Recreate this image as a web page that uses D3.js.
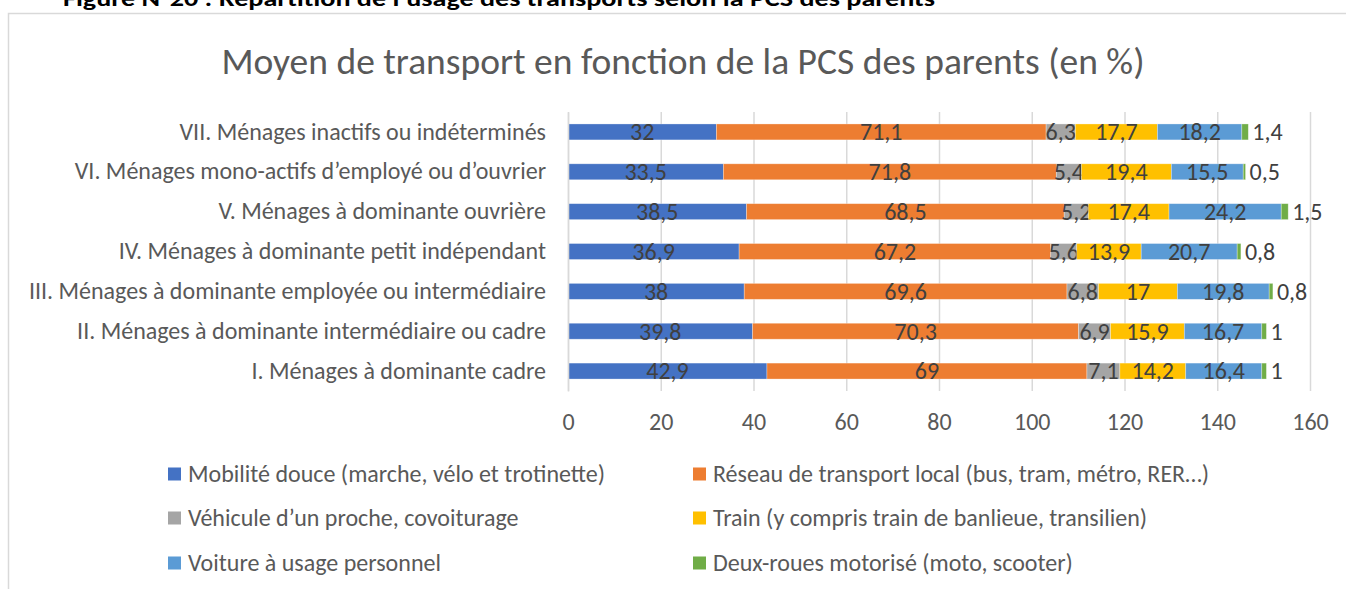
<!DOCTYPE html>
<html>
<head>
<meta charset="utf-8">
<script src="https://cdn.jsdelivr.net/npm/d3@7"></script>
<style>
  body { margin: 0; background: #fff; }
  svg { display: block; font-family: Carlito, Lato, sans-serif; }
</style>
</head>
<body>
<svg id="chart"></svg>
<script>
// categories, bottom to top as in the source table
const categories = [
    "I. Ménages à dominante cadre",
    "II. Ménages à dominante intermédiaire ou cadre",
    "III. Ménages à dominante employée ou intermédiaire",
    "IV. Ménages à dominante petit indépendant",
    "V. Ménages à dominante ouvrière",
    "VI. Ménages mono-actifs d’employé ou d’ouvrier",
    "VII. Ménages inactifs ou indéterminés"
];

const seriesNames = [
    "Mobilité douce (marche, vélo et trotinette)",
    "Réseau de transport local (bus, tram, métro, RER…)",
    "Véhicule d’un proche, covoiturage",
    "Train (y compris train de banlieue, transilien)",
    "Voiture à usage personnel",
    "Deux-roues motorisé (moto, scooter)"
];

const mobilite  = [42.9, 39.8, 38, 36.9, 38.5, 33.5, 32];
const reseau    = [69, 70.3, 69.6, 67.2, 68.5, 71.8, 71.1];
const vehicule  = [7.1, 6.9, 6.8, 5.6, 5.2, 5.4, 6.3];
const train     = [14.2, 15.9, 17, 13.9, 17.4, 19.4, 17.7];
const voiture   = [16.4, 16.7, 19.8, 20.7, 24.2, 15.5, 18.2];
const deuxRoues = [1, 1, 0.8, 0.8, 1.5, 0.5, 1.4];

const xTicks = [0, 20, 40, 60, 80, 100, 120, 140, 160];

const colors = ['#4472C4', '#ED7D31', '#A5A5A5', '#FFC000', '#5B9BD5', '#70AD47'];

// build rows for d3.stack
const seriesValues = [mobilite, reseau, vehicule, train, voiture, deuxRoues];
const data = categories.map(function (c, i) {
    let row = { name: c };
    seriesNames.forEach(function (s, j) { row[s] = seriesValues[j][i]; });
    return row;
});

const W = 1346, H = 589;
const svg = d3.select('#chart').attr('width', W).attr('height', H);

const fr = d3.formatLocale({ decimal: ",", thousands: " ", grouping: [3], currency: ["", "€"] });
const fmt = function (v) { return fr.format("~g")(v); };

const labelSize = 24;

// page heading, partly cut off by the top edge
svg.append('text')
    .attr('x', 63).attr('y', 6)
    .attr('font-weight', 'bold')
    .attr('font-size', 22)
    .attr('fill', '#000')
    .attr('textLength', 872)
    .attr('lengthAdjust', 'spacingAndGlyphs')
    .text("Figure N°20 : Répartition de l’usage des transports selon la PCS des parents");

// chart frame
svg.append('rect')
    .attr('x', 8.5).attr('y', 13.5)
    .attr('width', 1400).attr('height', 700)
    .attr('fill', 'none')
    .attr('stroke', '#d9d9d9')
    .attr('stroke-width', 1.5);

// title
svg.append('text')
    .attr('x', 683).attr('y', 61)
    .attr('dy', '.35em')
    .attr('text-anchor', 'middle')
    .attr('font-size', 37.5)
    .attr('fill', '#595959')
    .text("Moyen de transport en fonction de la PCS des parents (en %)");

const plotLeft = 568, plotRight = 1310, plotTop = 112, plotBottom = 391;

const xScale = d3.scaleLinear().domain([0, 160]).range([plotLeft, plotRight]);
const yScale = d3.scaleBand()
    .domain(categories.slice().reverse())
    .range([plotTop, plotBottom])
    .paddingInner(0.6)
    .paddingOuter(0.3);

// grid
svg.append('g')
    .attr('transform', 'translate(0,' + plotBottom + ')')
    .call(d3.axisBottom(xScale).tickValues(xTicks).tickSize(-(plotBottom - plotTop)).tickFormat(''))
    .call(function (g) {
        g.select('.domain').remove();
        g.selectAll('.tick line').attr('stroke', '#d9d9d9').attr('stroke-width', 1.5);
    });

// x tick labels
svg.append('g')
    .attr('transform', 'translate(0,' + plotBottom + ')')
    .call(d3.axisBottom(xScale).tickValues(xTicks).tickSize(0))
    .call(function (g) {
        g.select('.domain').remove();
        g.selectAll('text')
            .attr('font-size', labelSize)
            .attr('font-family', 'Carlito, Lato, sans-serif')
            .attr('fill', '#595959')
            .attr('dy', '.35em')
            .attr('y', 31);
    });

// stacked bars
const stack = d3.stack().keys(seriesNames);
const stacked = stack(data);

const serie = svg.selectAll('.serie')
    .data(stacked)
    .enter().append('g')
    .attr('class', 'serie')
    .attr('fill', function (d, i) { return colors[i]; });

serie.selectAll('rect')
    .data(function (d) { return d; })
    .enter().append('rect')
    .attr('y', function (d) { return yScale(d.data.name); })
    .attr('x', function (d) { return xScale(d[0]); })
    .attr('width', function (d) { return xScale(d[1]) - xScale(d[0]); })
    .attr('height', yScale.bandwidth())
    .attr('stroke', '#fff')
    .attr('stroke-opacity', 0.4)
    .attr('stroke-width', 0.75);

// y axis
svg.append('g')
    .attr('transform', 'translate(' + plotLeft + ',0)')
    .call(d3.axisLeft(yScale).tickSize(0).tickPadding(22))
    .call(function (g) {
        g.select('.domain').attr('stroke', '#d9d9d9').attr('stroke-width', 1.5);
        g.selectAll('text')
            .attr('font-size', labelSize)
            .attr('font-family', 'Carlito, Lato, sans-serif')
            .attr('fill', '#595959');
    });

// data labels
const last = stacked.length - 1;
serie.each(function (s, si) {
    d3.select(this).selectAll('.lbl')
        .data(s)
        .enter().append('text')
        .attr('class', 'lbl')
        .attr('x', function (d) {
            return si === last ? xScale(d[1]) + 4 : (xScale(d[0]) + xScale(d[1])) / 2;
        })
        .attr('y', function (d) { return yScale(d.data.name) + yScale.bandwidth() / 2; })
        .attr('dy', '.35em')
        .attr('text-anchor', si === last ? 'start' : 'middle')
        .attr('font-size', labelSize)
        .attr('fill', '#404040')
        .text(function (d) { return fmt(+(d[1] - d[0]).toFixed(1)); });
});

// legend
const legendX = [168, 693];
const legendY = [474, 518, 563];
const legend = svg.selectAll('.legend')
    .data(seriesNames)
    .enter().append('g')
    .attr('class', 'legend')
    .attr('transform', function (d, i) {
        return 'translate(' + legendX[i % 2] + ',' + legendY[Math.floor(i / 2)] + ')';
    });

legend.append('rect')
    .attr('x', 0).attr('y', -6.5)
    .attr('width', 13).attr('height', 13)
    .attr('fill', function (d, i) { return colors[i]; });

legend.append('text')
    .attr('x', 20)
    .attr('dy', '.35em')
    .attr('font-size', labelSize)
    .attr('fill', '#595959')
    .text(function (d) { return d; });
</script>
</body>
</html>
